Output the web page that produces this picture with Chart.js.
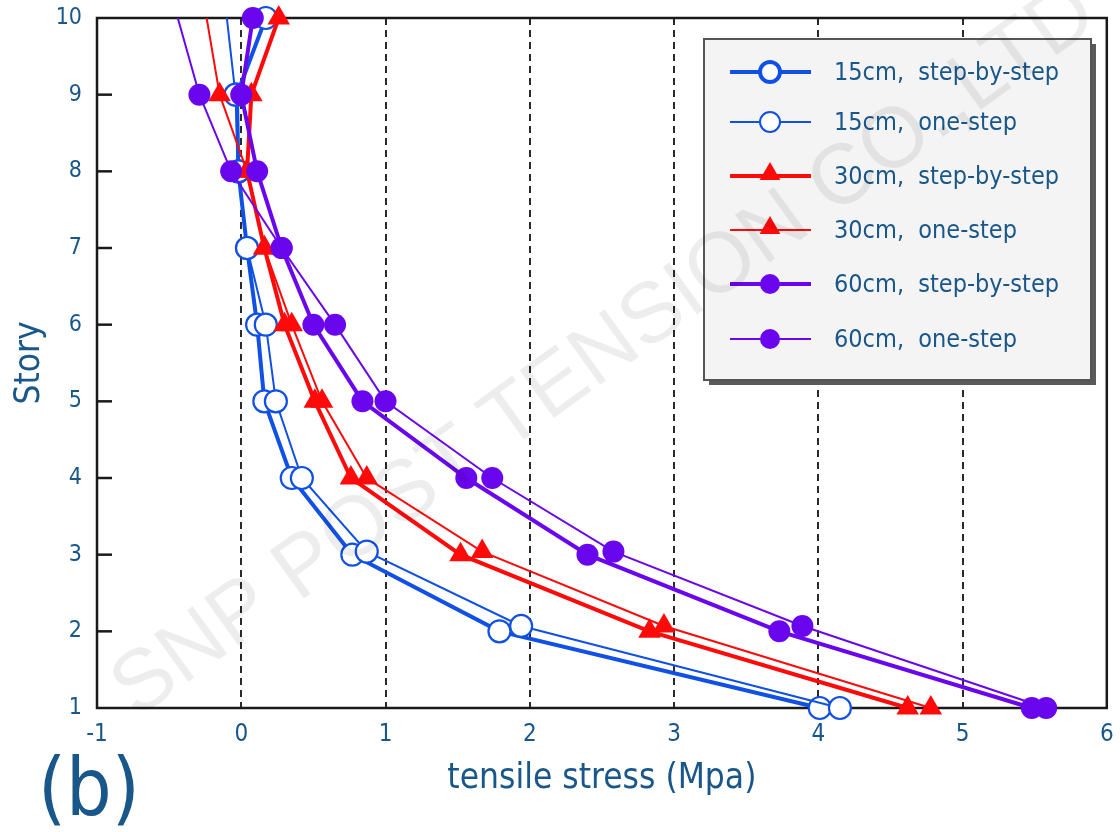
<!DOCTYPE html>
<html>
<head>
<meta charset="utf-8">
<script src="https://cdn.jsdelivr.net/npm/chart.js@4/dist/chart.umd.min.js"></script>
<style>
  html, body { margin: 0; padding: 0; background: #ffffff; }
  #wrap { width: 1120px; height: 832px; }
</style>
</head>
<body>
<div id="wrap"><canvas id="c" width="1120" height="832"></canvas></div>
<script>
// ---- data ----
const stories = [1, 2, 3, 4, 5, 6, 7, 8, 9, 10];
// one-step series continue above the top of the plot (clipped)
const storiesOneStep = [1, 2.07, 3.04, 4, 5, 6, 7, 8, 9, 11];

const s15Step = [4.01, 1.79, 0.77, 0.35, 0.16, 0.11, 0.04, -0.02, -0.03, 0.17];
const s15One  = [4.15, 1.94, 0.87, 0.42, 0.24, 0.17, 0.04, -0.02, -0.04, -0.16];
const s30Step = [4.62, 2.83, 1.52, 0.76, 0.51, 0.30, 0.16, 0.04, 0.07, 0.26];
const s30One  = [4.78, 2.93, 1.67, 0.87, 0.56, 0.35, 0.16, 0.04, -0.15, -0.33];
const s60Step = [5.48, 3.73, 2.40, 1.56, 0.84, 0.50, 0.28, 0.11, 0.00, 0.08];
const s60One  = [5.58, 3.89, 2.58, 1.74, 1.00, 0.65, 0.28, -0.07, -0.29, -0.59];

const seriesLabels = [
  '15cm,  step-by-step', '15cm,  one-step',
  '30cm,  step-by-step', '30cm,  one-step',
  '60cm,  step-by-step', '60cm,  one-step'
];
const xTickMin = -1, xTickMax = 6;
const yTickMin = 1, yTickMax = 10;
const xTitle = 'tensile stress (Mpa)';
const yTitle = 'Story';
const panelLabel = '(b)';
const watermark = 'SNP POST TENSION CO.,LTD';

// ---- styles ----
const BLUE = '#1150e4', RED = '#ff0a0a', PURPLE = '#6a06ee';
const TEXT = '#19568a';
const NARROW = "'Liberation Sans Narrow', 'DejaVu Sans Condensed', 'Arial Narrow', sans-serif";

function pts(xs, ys) { return xs.map((v, i) => ({ x: v, y: ys[i] })); }

const clipStep = { left: 20, right: 20, top: 20, bottom: 20 };
const clipOne = { left: 20, right: 20, top: 0, bottom: 20 };

function ds(label, xs, ys, color, thick, style, clip, order) {
  const open = style === 'open';
  return {
    label, data: pts(xs, ys), borderColor: color, backgroundColor: color,
    borderWidth: thick ? 4 : 2,
    pointStyle: style === 'tri' ? 'triangle' : 'circle',
    pointRadius: style === 'tri' ? 13 : 11,
    pointHoverRadius: style === 'tri' ? 13 : 11,
    pointBackgroundColor: open ? '#ffffff' : color,
    pointBorderColor: color,
    pointBorderWidth: open ? 2.2 : 0,
    tension: 0, clip, order
  };
}

const datasets = [
  ds(seriesLabels[0], s15Step, stories, BLUE, true, 'open', clipStep, 6),
  ds(seriesLabels[1], s15One, storiesOneStep, BLUE, false, 'open', clipOne, 5),
  ds(seriesLabels[2], s30Step, stories, RED, true, 'tri', clipStep, 4),
  ds(seriesLabels[3], s30One, storiesOneStep, RED, false, 'tri', clipOne, 3),
  ds(seriesLabels[4], s60Step, stories, PURPLE, true, 'fill', clipStep, 2),
  ds(seriesLabels[5], s60One, storiesOneStep, PURPLE, false, 'fill', clipOne, 1)
];

const decor = {
  id: 'decor',
  beforeDraw(chart) {
    const ctx = chart.ctx;
    ctx.save();
    ctx.fillStyle = '#ffffff';
    ctx.fillRect(0, 0, chart.width, chart.height);
    ctx.restore();
  },
  beforeDatasetsDraw(chart) {
    const ctx = chart.ctx, a = chart.chartArea, y = chart.scales.y;
    ctx.save();
    ctx.strokeStyle = '#1a1a1a';
    ctx.lineWidth = 2.5;
    ctx.strokeRect(a.left, a.top, a.right - a.left, a.bottom - a.top);
    for (let v = yTickMin + 1; v < yTickMax; v++) {
      const py = y.getPixelForValue(v);
      ctx.beginPath();
      ctx.moveTo(a.left, py);
      ctx.lineTo(a.left + 15, py);
      ctx.stroke();
    }
    ctx.restore();
  },
  afterDraw(chart) {
    const ctx = chart.ctx;
    // legend box
    const bx = 704, by = 39, bw = 387, bh = 341;
    ctx.save();
    ctx.fillStyle = '#5a5a5a';
    ctx.fillRect(bx + 5, by + 5, bw, bh);
    ctx.fillStyle = '#f4f4f4';
    ctx.fillRect(bx, by, bw, bh);
    ctx.strokeStyle = '#555555';
    ctx.lineWidth = 2;
    ctx.strokeRect(bx, by, bw, bh);
    const rows = [72, 122, 176, 230, 284, 339];
    chart.data.datasets.forEach((d, i) => {
      const ry = rows[i];
      ctx.strokeStyle = d.borderColor;
      ctx.lineWidth = d.borderWidth;
      ctx.beginPath();
      ctx.moveTo(730, ry);
      ctx.lineTo(811, ry);
      ctx.stroke();
      ctx.fillStyle = d.pointBackgroundColor;
      ctx.strokeStyle = d.pointBorderColor;
      Chart.helpers.drawPoint(ctx, {
        pointStyle: d.pointStyle, radius: d.pointRadius - 1, rotation: 0,
        borderWidth: d.pointBorderWidth
      }, 770, d.pointStyle === 'triangle' ? ry - 2 : ry);
      ctx.fillStyle = TEXT;
      ctx.font = "25px " + NARROW;
      ctx.textBaseline = 'middle';
      ctx.textAlign = 'left';
      ctx.fillText(d.label, 834, ry + 1);
    });
    // panel label
    ctx.fillStyle = TEXT;
    ctx.font = "80px " + NARROW;
    ctx.textBaseline = 'alphabetic';
    ctx.fillText(panelLabel, 38, 815);
    // watermark
    ctx.translate(605, 352);
    ctx.rotate(-Math.atan2(700, 970));
    ctx.font = "100px 'Liberation Sans', Arial, sans-serif";
    const w = ctx.measureText(watermark).width;
    const size = 100 * 1190 / w;
    ctx.font = size.toFixed(1) + "px 'Liberation Sans', Arial, sans-serif";
    ctx.textAlign = 'center';
    ctx.textBaseline = 'middle';
    ctx.fillStyle = 'rgba(0,0,0,0.07)';
    ctx.fillText(watermark, 0, 0);
    ctx.restore();
  }
};

new Chart(document.getElementById('c'), {
  type: 'line',
  data: { datasets },
  options: {
    responsive: false,
    animation: false,
    events: [],
    layout: { padding: { top: 18, right: 13, left: 0, bottom: 0 } },
    plugins: { legend: { display: false }, tooltip: { enabled: false } },
    scales: {
      x: {
        type: 'linear', min: xTickMin, max: xTickMax,
        ticks: { stepSize: 1, color: TEXT, font: { family: NARROW, size: 24 }, padding: 12 },
        grid: {
          drawTicks: false, lineWidth: 2,
          color: c => (c.tick && (c.tick.value === xTickMin || c.tick.value === xTickMax)) ? 'rgba(0,0,0,0)' : '#2a2a2a'
        },
        border: { display: false, dash: [7, 5] },
        title: { display: true, text: xTitle, color: TEXT, font: { family: NARROW, size: 35 }, padding: { top: 0, bottom: 32 } },
        afterFit(s) { s.height = 124; s.paddingLeft = 0; s.paddingRight = 0; }
      },
      y: {
        type: 'linear', min: yTickMin, max: yTickMax,
        ticks: { stepSize: 1, color: TEXT, font: { family: NARROW, size: 23 }, padding: 15 },
        grid: { display: false, drawTicks: false },
        border: { display: false },
        title: { display: true, text: yTitle, color: TEXT, font: { family: NARROW, size: 35 }, padding: { top: 9, bottom: 0 } },
        afterFit(s) { s.width = 97; s.paddingTop = 0; s.paddingBottom = 0; }
      }
    }
  },
  plugins: [decor]
});
</script>
</body>
</html>
